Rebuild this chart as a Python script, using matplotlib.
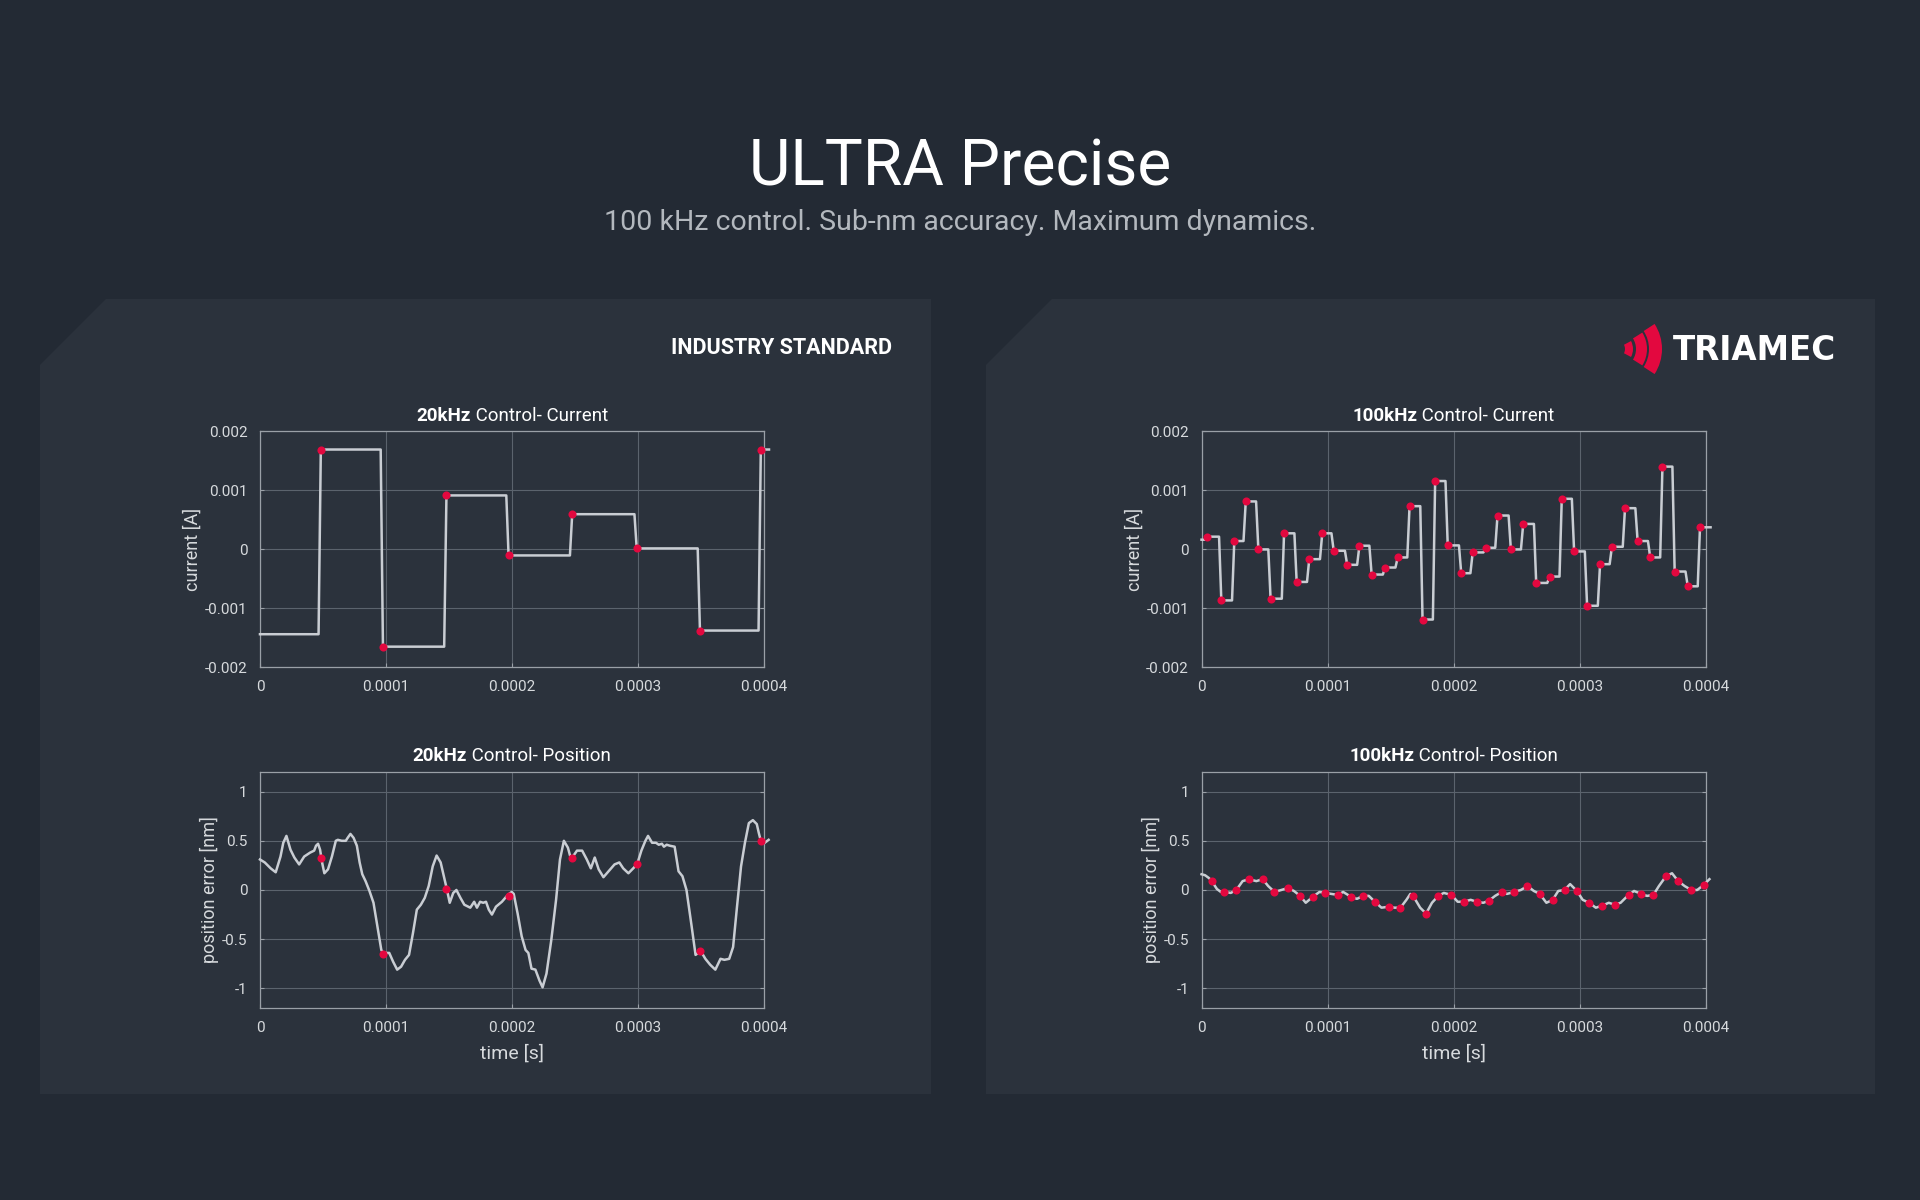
import numpy as np
import matplotlib

matplotlib.use("Agg")
import matplotlib.pyplot as plt  # noqa: E402
from matplotlib.patches import Polygon, Wedge  # noqa: E402

# ---- data (times in microseconds) ----
x_ticks = [0, 100, 200, 300, 400]
x_tick_labels = ["0", "0.0001", "0.0002", "0.0003", "0.0004"]
cur_ticks = [-0.002, -0.001, 0, 0.001, 0.002]
cur_tick_labels = ["-0.002", "-0.001", "0", "0.001", "0.002"]
pos_ticks = [-1, -0.5, 0, 0.5, 1]
pos_tick_labels = ["-1", "-0.5", "0", "0.5", "1"]

# 20 kHz current: held samples
cur20_start = -0.001437
cur20_t = [48.3, 97.6, 148.0, 197.3, 247.8, 299.0, 349.2, 397.5]
cur20_v = [0.001693, -0.001648, 0.000915, -0.000102, 0.000597, 0.000017, -0.001375, 0.001693]

# 100 kHz current: held samples
cur100_start = 0.000165
cur100_t = [4.7, 15.7, 26.0, 35.1, 45.1, 54.8, 65.5, 75.5, 85.5, 95.8,
            104.9, 115.6, 125.3, 135.0, 145.7, 155.7, 165.1, 175.4, 185.4, 195.4,
            206.1, 215.2, 225.5, 234.9, 245.5, 255.3, 265.6, 276.2, 285.9, 295.7,
            306.0, 316.3, 325.7, 336.1, 346.1, 356.1, 365.8, 375.5, 385.9, 395.6]
cur100_v = [0.000216, -0.000864, 0.000142, 0.000813, 0.0, -0.000835, 0.000273, -0.000551, -0.000165, 0.000273,
            -0.000023, -0.000261, 0.0000625, -0.000426, -0.000307, -0.000136, 0.000733, -0.001188, 0.001159, 0.000068,
            -0.000403, -0.000051, 0.000028, 0.000574, 0.0, 0.000432, -0.000568, -0.00046, 0.000858, -0.000034,
            -0.000955, -0.00025, 0.000045, 0.000699, 0.000142, -0.000136, 0.001403, -0.000375, -0.000625, 0.000375]

# 20 kHz position error trace
pos20_line_t = [0, 3.8, 8.5, 12.5, 16.3, 18.5, 21.0, 24.2, 27.3, 31.1, 35.1, 39.8, 43.0, 44.5, 46.1, 47.7,
                49.3, 51.1, 54.0, 57.1, 60.2, 61.8, 64.9, 68.1, 69.6, 71.8, 74.3, 76.9, 79.1, 81.2, 83.8,
                86.9, 90.1, 93.2, 96.3, 97.9, 102.6, 105.7, 108.9, 112.0, 115.1, 118.3, 121.4, 124.5, 127.7,
                130.8, 133.9, 137.1, 140.2, 143.4, 145.9, 148.1, 150.6, 153.4, 155.9, 159.1, 162.2, 166.9,
                170.0, 172.2, 174.7, 177.2, 179.4, 181.6, 184.1, 187.3, 192.0, 196.7, 199.8, 201.4, 204.5,
                207.7, 210.8, 213.0, 215.5, 218.6, 221.8, 224.3, 227.4, 231.2, 235.0, 238.1, 241.2, 244.4,
                246.3, 247.8, 251.6, 255.7, 259.4, 262.6, 265.7, 268.8, 272.6, 276.7, 281.4, 285.2, 288.3,
                292.4, 295.5, 299.3, 302.7, 305.9, 308.0, 311.2, 314.3, 316.5, 319.0, 320.6, 322.8, 325.3,
                329.1, 332.2, 335.3, 338.5, 342.6, 345.7, 349.8, 353.5, 357.3, 361.4, 365.5, 368.6, 372.4,
                375.5, 378.6, 381.8, 384.9, 388.0, 391.2, 394.3, 395.9, 397.5, 400.6, 403.7]
pos20_line_v = [0.31, 0.28, 0.22, 0.18, 0.34, 0.48, 0.55, 0.41, 0.33, 0.26, 0.34, 0.38, 0.40, 0.45, 0.47, 0.41,
                0.28, 0.17, 0.21, 0.34, 0.50, 0.51, 0.50, 0.50, 0.53, 0.57, 0.53, 0.45, 0.28, 0.16, 0.09,
                -0.01, -0.13, -0.37, -0.61, -0.64, -0.64, -0.73, -0.81, -0.78, -0.71, -0.66, -0.44, -0.20, -0.15,
                -0.08, 0.04, 0.24, 0.35, 0.28, 0.14, 0.02, -0.13, -0.03, 0.00, -0.08, -0.15, -0.18,
                -0.12, -0.18, -0.12, -0.13, -0.12, -0.20, -0.25, -0.17, -0.12, -0.05, -0.02, -0.04, -0.24,
                -0.47, -0.61, -0.64, -0.80, -0.81, -0.92, -0.99, -0.85, -0.51, -0.10, 0.31, 0.50, 0.43,
                0.34, 0.33, 0.40, 0.40, 0.31, 0.22, 0.33, 0.21, 0.13, 0.19, 0.26, 0.28, 0.22,
                0.17, 0.21, 0.26, 0.40, 0.50, 0.55, 0.48, 0.48, 0.46, 0.47, 0.44, 0.46, 0.45,
                0.44, 0.19, 0.14, 0.00, -0.37, -0.66, -0.62, -0.70, -0.76, -0.81, -0.70, -0.71, -0.70,
                -0.58, -0.17, 0.24, 0.48, 0.68, 0.71, 0.67, 0.58, 0.50, 0.48, 0.51]
pos20_dot_t = [48.3, 97.6, 148.0, 197.3, 247.8, 299.0, 349.2, 397.5]
pos20_dot_v = [0.33, -0.65, 0.01, -0.06, 0.33, 0.26, -0.62, 0.50]

# 100 kHz position error: samples plus in-between trace points
pos100_dot_t = [8.1, 18.2, 27.6, 37.6, 48.5, 57.9, 68.6, 78.3, 88.3, 98.3,
                108.1, 118.7, 128.1, 137.5, 148.8, 157.9, 167.9, 178.2, 187.9, 198.3,
                208.3, 218.3, 228.0, 238.3, 248.1, 258.7, 268.4, 278.7, 288.1, 297.9,
                307.6, 317.9, 327.9, 338.9, 348.9, 358.6, 368.6, 378.3, 388.7, 398.4]
pos100_dot_v = [0.09, -0.02, 0.00, 0.11, 0.11, -0.02, 0.02, -0.06, -0.07, -0.03,
                -0.05, -0.07, -0.06, -0.12, -0.17, -0.18, -0.06, -0.24, -0.06, -0.05,
                -0.12, -0.12, -0.11, -0.02, -0.02, 0.04, -0.04, -0.10, 0.00, -0.01,
                -0.13, -0.16, -0.15, -0.05, -0.04, -0.05, 0.14, 0.09, 0.00, 0.05]
pos100_mid_t = [0, 2.8, 6.0, 12.2, 15.3, 23.2, 32.6, 43.5, 52.9, 63.3, 73.3, 82.7, 93.6, 103.0,
                112.4, 123.4, 132.8, 142.8, 153.2, 162.6, 165.7, 173.5, 182.9, 192.3, 203.3, 213.6,
                223.6, 233.0, 242.4, 253.4, 263.7, 273.7, 283.1, 292.5, 302.5, 312.9, 323.2, 332.6,
                343.3, 353.6, 363.0, 373.4, 383.4, 393.4, 403.1]
pos100_mid_v = [0.16, 0.15, 0.12, 0.01, -0.02, -0.03, 0.09, 0.09, 0.04, 0.00, -0.01, -0.13, -0.02, -0.04,
                -0.02, -0.09, -0.06, -0.18, -0.18, -0.10, -0.04, -0.18, -0.13, -0.03, -0.12, -0.10,
                -0.13, -0.06, -0.04, 0.00, -0.01, -0.13, -0.01, 0.06, -0.10, -0.18, -0.13, -0.13,
                -0.01, -0.06, 0.04, 0.17, 0.04, 0.00, 0.11]

# ---- style ----
BG = "#232a34"
PANEL = "#2b323c"
LINE = "#c9cdd3"
DOT = "#e3083f"
GRID = "#5b636d"
SPINE = "#9aa0a7"
TXT = "#d7dadd"
FONT = ["Roboto", "DejaVu Sans"]
RAMP = 1.8  # us, visual rise time of a held step

plt.rcParams["font.family"] = FONT

fig = plt.figure(figsize=(19.2, 12), dpi=100, facecolor=BG)

# background layer in pixel coordinates
bg = fig.add_axes([0, 0, 1, 1])
bg.set_xlim(0, 1920)
bg.set_ylim(1200, 0)
bg.axis("off")
for x0, x1 in [(40, 931), (986, 1875)]:
    bg.add_patch(Polygon([(x0, 365), (x0 + 66, 299), (x1, 299), (x1, 1094), (x0, 1094)],
                         closed=True, fc=PANEL, ec="none"))

bg.text(960, 168, "ULTRA Precise", ha="center", va="center", color="white",
        fontsize=46, fontweight="normal", family=FONT)
bg.text(960, 222, "100 kHz control. Sub-nm accuracy. Maximum dynamics.", ha="center",
        va="center", color="#b3b8be", fontsize=20.5, fontweight="normal", family=FONT)
bg.text(892, 348, "INDUSTRY STANDARD", ha="right", va="center", color="white",
        fontsize=15.5, fontweight="bold", family=FONT)

# Triamec logo: red arcs + wordmark
cx, cy = 1616, 349
for r_out, w, ang in [(17, 8, 28), (31, 11, 32), (46, 13, 33)]:
    bg.add_patch(Wedge((cx, cy), r_out, -ang, ang, width=w, fc=DOT, ec="none"))
bg.text(1673, 350, "TRIAMEC", ha="left", va="center", color="white",
        fontsize=23.5, fontweight="bold", family=["DejaVu Sans"])


def held_steps(t, v, start, t_end=404.0):
    xs, ys = [0.0], [start]
    prev = start
    for ti, vi in zip(t, v):
        xs += [ti - RAMP, ti]
        ys += [prev, vi]
        prev = vi
    xs.append(t_end)
    ys.append(prev)
    return np.array(xs) * 1e-6, np.array(ys)


def style_axes(ax, yticks, ylabels, ylim, ylabel, xlabel=None):
    ax.set_facecolor("none")
    ax.set_xlim(0, 0.0004)
    ax.set_ylim(*ylim)
    ax.set_xticks(np.array(x_ticks) * 1e-6)
    ax.set_xticklabels(x_tick_labels)
    ax.set_yticks(yticks)
    ax.set_yticklabels(ylabels)
    ax.grid(True, color=GRID, lw=0.8)
    ax.set_axisbelow(True)
    for s in ax.spines.values():
        s.set_color(SPINE)
        s.set_linewidth(0.9)
    ax.tick_params(colors=TXT, labelsize=11, length=3, direction="in", pad=9,
                   right=True, top=False, color=SPINE)
    ax.set_ylabel(ylabel, color=TXT, fontsize=13, labelpad=2)
    if xlabel:
        ax.set_xlabel(xlabel, color=TXT, fontsize=14, labelpad=7)


def two_part_title(ax, bold, rest, y_px):
    r = fig.canvas.get_renderer()
    pos = ax.get_position()
    xc = (pos.x0 + pos.x1) / 2 * 1920
    a = bg.text(0, y_px, bold, ha="left", va="center", color="white", fontsize=13.5,
                fontweight="bold", family=FONT)
    b = bg.text(0, y_px, " " + rest, ha="left", va="center", color="white", fontsize=13.5,
                family=FONT)
    wa = a.get_window_extent(r).width
    wb = b.get_window_extent(r).width
    x0 = xc - (wa + wb) / 2
    a.set_x(x0)
    b.set_x(x0 + wa)


W, H = 0.2625, 0.1967
ax_c20 = fig.add_axes([0.1354, 0.4438, W, H])
ax_p20 = fig.add_axes([0.1354, 0.1600, W, H])
ax_c100 = fig.add_axes([0.6258, 0.4438, W, H])
ax_p100 = fig.add_axes([0.6258, 0.1600, W, H])

# current plots
for ax, t, v, s in [(ax_c20, cur20_t, cur20_v, cur20_start),
                    (ax_c100, cur100_t, cur100_v, cur100_start)]:
    xs, ys = held_steps(t, v, s)
    ax.plot(xs, ys, color=LINE, lw=1.8, zorder=3, clip_on=False)
    ax.scatter(np.array(t) * 1e-6, v, s=34, color=DOT, zorder=4, clip_on=False, linewidths=0)
    style_axes(ax, cur_ticks, cur_tick_labels, (-0.002, 0.002), "current [A]")

# 20 kHz position
ax_p20.plot(np.array(pos20_line_t) * 1e-6, pos20_line_v, color=LINE, lw=1.8, zorder=3,
            clip_on=False, solid_joinstyle="round")
ax_p20.scatter(np.array(pos20_dot_t) * 1e-6, pos20_dot_v, s=34, color=DOT, zorder=4,
               clip_on=False, linewidths=0)
style_axes(ax_p20, pos_ticks, pos_tick_labels, (-1.2, 1.2), "position error [nm]", "time [s]")

# 100 kHz position
t_all = np.concatenate([pos100_dot_t, pos100_mid_t])
v_all = np.concatenate([pos100_dot_v, pos100_mid_v])
order = np.argsort(t_all)
ax_p100.plot(t_all[order] * 1e-6, v_all[order], color=LINE, lw=1.8, zorder=3,
             clip_on=False, solid_joinstyle="round")
ax_p100.scatter(np.array(pos100_dot_t) * 1e-6, pos100_dot_v, s=34, color=DOT, zorder=4,
                clip_on=False, linewidths=0)
style_axes(ax_p100, pos_ticks, pos_tick_labels, (-1.2, 1.2), "position error [nm]", "time [s]")

two_part_title(ax_c20, "20kHz", "Control- Current", 416)
two_part_title(ax_p20, "20kHz", "Control- Position", 756)
two_part_title(ax_c100, "100kHz", "Control- Current", 416)
two_part_title(ax_p100, "100kHz", "Control- Position", 756)

fig.savefig("out.png", dpi=100, facecolor=BG)
plt.close(fig)
